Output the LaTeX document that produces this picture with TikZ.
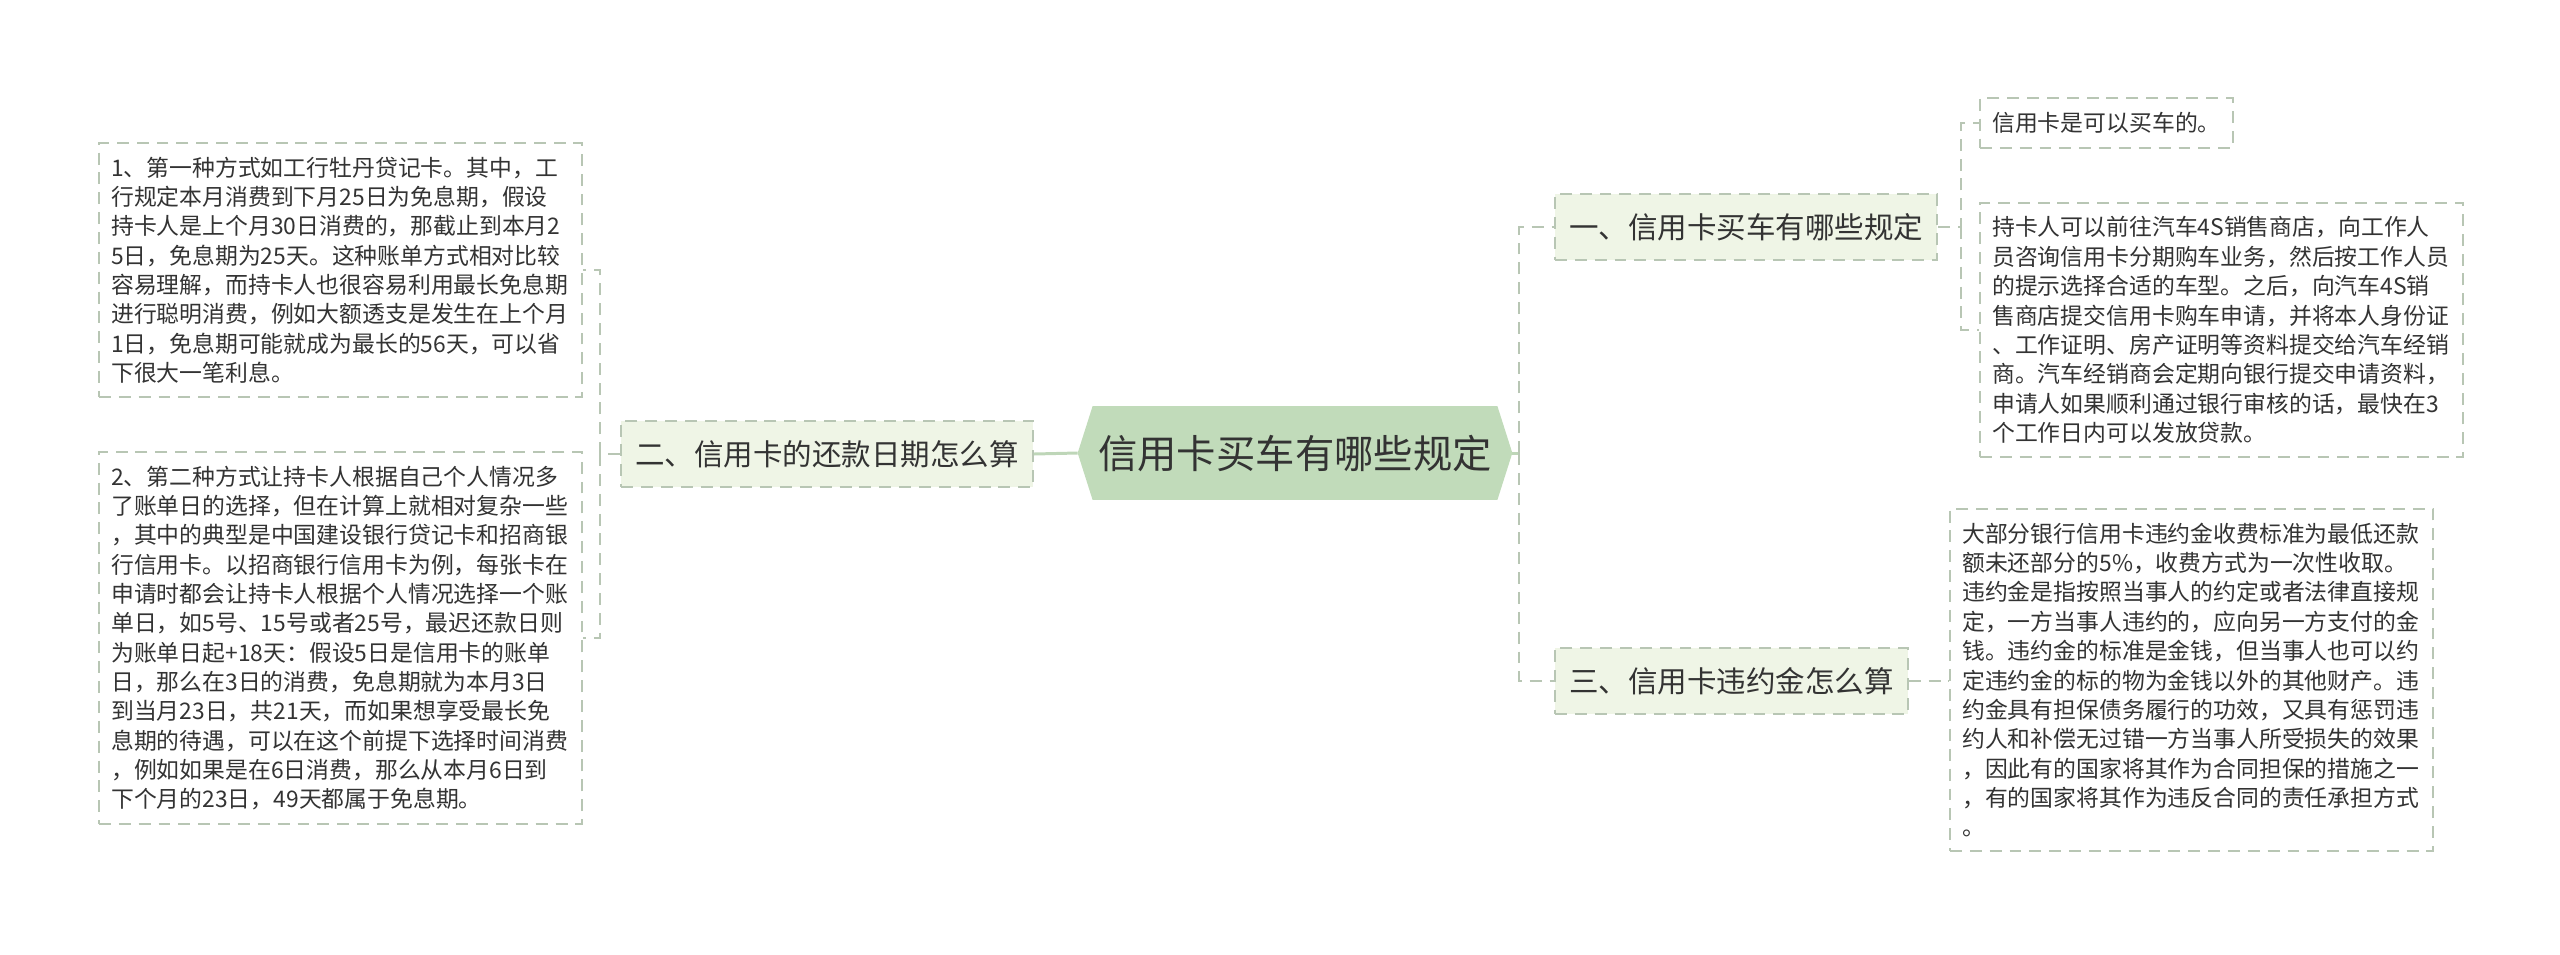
\documentclass[tikz,border=0pt]{standalone}
\usepackage{fontspec}
\setmainfont{Noto Sans CJK SC}
\usetikzlibrary{backgrounds}
\definecolor{rootgreen}{HTML}{C1DBBA}
\definecolor{branchgreen}{HTML}{EFF5E6}
\definecolor{dashgray}{HTML}{B8C6B4}
\definecolor{linkgreen}{HTML}{BED6B8}
\definecolor{inkgray}{HTML}{333333}

\begin{document}
\begin{tikzpicture}[x=0.02cm,y=-0.02cm,
  rootnode/.style={font=\fontsize{22.4pt}{26pt}\selectfont,text=inkgray,inner xsep=3pt,inner ysep=0pt,minimum height=53pt},
  branch/.style={draw=dashgray,dash pattern=on 6.8pt off 4.5pt,line width=1.1pt,fill=branchgreen,
    font=\fontsize{16.8pt}{20pt}\selectfont,text=inkgray,inner xsep=8pt,inner ysep=11pt},
  leaf/.style={draw=dashgray,dash pattern=on 6.8pt off 4.5pt,line width=1.1pt,fill=white,
    font=\fontsize{13pt}{16.7pt}\selectfont,text=inkgray,inner xsep=7pt,inner ysep=8pt,align=left},
  wideleaf/.style={leaf,text width=261pt},
  link/.style={draw=dashgray,dash pattern=on 6.8pt off 4.5pt,line width=1.1pt},
  rootlink/.style={draw=linkgreen,line width=1.7pt}]
  \useasboundingbox (0,0) rectangle (2560,954);

  \node[rootnode] (root) at (1295,453) {信用卡买车有哪些规定};
  \begin{scope}[on background layer]
    \fill[rootgreen] ([xshift=-8.5pt]root.west) -- (root.north west) -- (root.north east)
      -- ([xshift=8.5pt]root.east) -- (root.south east) -- (root.south west) -- cycle;
  \end{scope}

  \node[branch,anchor=east] (b2) at (1034,454) {二、信用卡的还款日期怎么算};
  \node[branch,anchor=west] (b1) at (1554,227) {一、信用卡买车有哪些规定};
  \node[branch,anchor=west] (b3) at (1554,681) {三、信用卡违约金怎么算};

  \node[wideleaf,anchor=west] (l1) at (98,270) {1、第一种方式如工行牡丹贷记卡。其中，工\\
    行规定本月消费到下月25日为免息期，假设\\
    持卡人是上个月30日消费的，那截止到本月2\\
    5日，免息期为25天。这种账单方式相对比较\\
    容易理解，而持卡人也很容易利用最长免息期\\
    进行聪明消费，例如大额透支是发生在上个月\\
    1日，免息期可能就成为最长的56天，可以省\\
    下很大一笔利息。};
  \node[wideleaf,anchor=west] (l2) at (98,638) {2、第二种方式让持卡人根据自己个人情况多\\
    了账单日的选择，但在计算上就相对复杂一些\\
    ，其中的典型是中国建设银行贷记卡和招商银\\
    行信用卡。以招商银行信用卡为例，每张卡在\\
    申请时都会让持卡人根据个人情况选择一个账\\
    单日，如5号、15号或者25号，最迟还款日则\\
    为账单日起+18天：假设5日是信用卡的账单\\
    日，那么在3日的消费，免息期就为本月3日\\
    到当月23日，共21天，而如果想享受最长免\\
    息期的待遇，可以在这个前提下选择时间消费\\
    ，例如如果是在6日消费，那么从本月6日到\\
    下个月的23日，49天都属于免息期。};

  \node[leaf,anchor=west] (r1a) at (1979,123) {信用卡是可以买车的。};
  \node[wideleaf,anchor=west] (r1b) at (1979,330) {持卡人可以前往汽车4S销售商店，向工作人\\
    员咨询信用卡分期购车业务，然后按工作人员\\
    的提示选择合适的车型。之后，向汽车4S销\\
    售商店提交信用卡购车申请，并将本人身份证\\
    、工作证明、房产证明等资料提交给汽车经销\\
    商。汽车经销商会定期向银行提交申请资料，\\
    申请人如果顺利通过银行审核的话，最快在3\\
    个工作日内可以发放贷款。};
  \node[wideleaf,anchor=west] (r3) at (1949,680) {大部分银行信用卡违约金收费标准为最低还款\\
    额未还部分的5\%，收费方式为一次性收取。\\
    违约金是指按照当事人的约定或者法律直接规\\
    定，一方当事人违约的，应向另一方支付的金\\
    钱。违约金的标准是金钱，但当事人也可以约\\
    定违约金的标的物为金钱以外的其他财产。违\\
    约金具有担保债务履行的功效，又具有惩罚违\\
    约人和补偿无过错一方当事人所受损失的效果\\
    ，因此有的国家将其作为合同担保的措施之一\\
    ，有的国家将其作为违反合同的责任承担方式\\
    。};

  \path (root.east) ++(22,0) coordinate (rj);
  \path (b2.west) ++(-20,0) coordinate (lj);
  \path (b1.east) ++(23,0) coordinate (r1j);

  \draw[rootlink] ([xshift=-8.5pt]root.west) -- (b2.east);
  \draw[rootlink] ([xshift=8.5pt]root.east) -- (rj);
  \draw[link] (rj) |- (b1.west);
  \draw[link] (rj) |- (b3.west);
  \draw[link] (b2.west) -- (lj) |- (l1.east);
  \draw[link] (lj) |- (l2.east);
  \draw[link] (b1.east) -- (r1j) |- (r1a.west);
  \draw[link] (r1j) |- (r1b.west);
  \draw[link] (b3.east) -- (b3.east -| r3.west);
\end{tikzpicture}
\end{document}
